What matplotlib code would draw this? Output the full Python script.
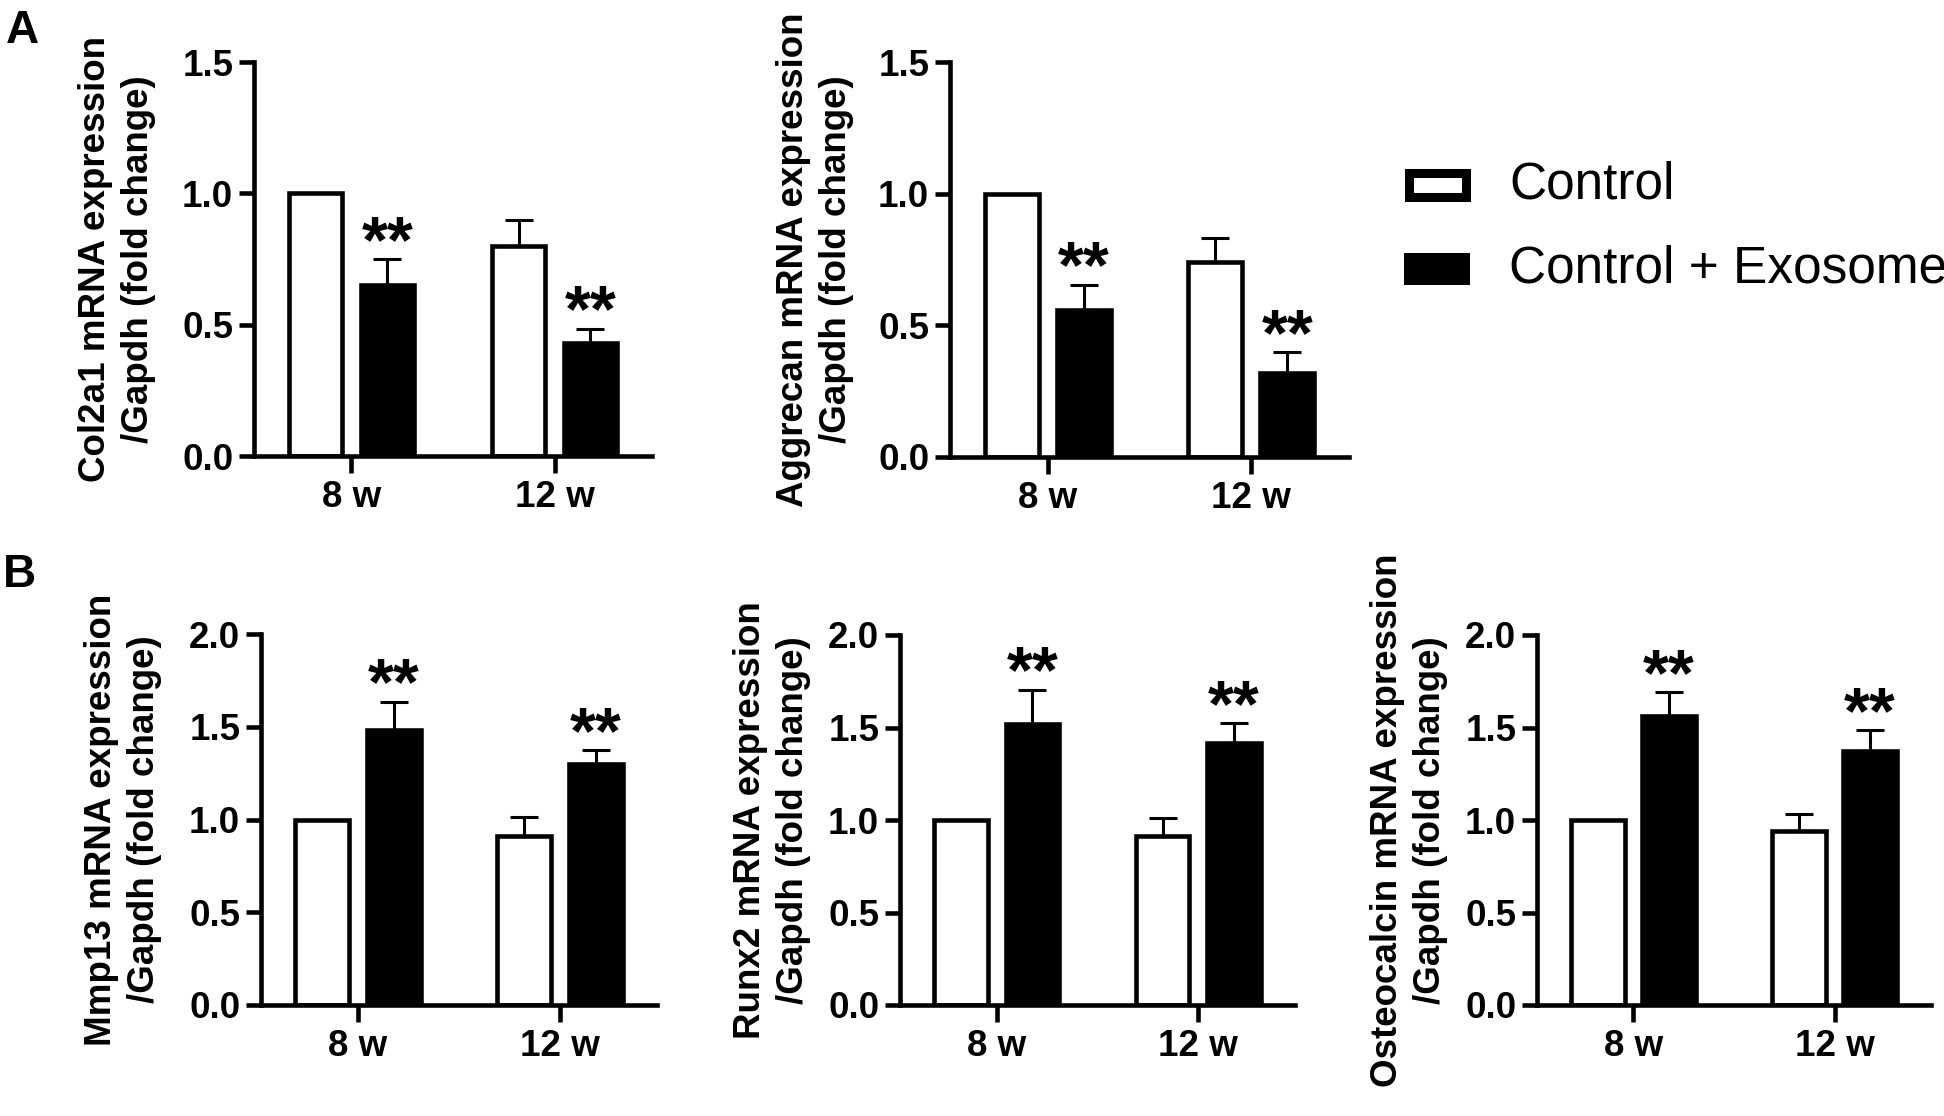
import matplotlib
matplotlib.use("Agg")
import matplotlib.pyplot as plt
from matplotlib.patches import Rectangle
import numpy as np

plt.rcParams['font.family'] = ['Liberation Sans', 'DejaVu Sans']

# ---------------- data ----------------
categories = ['8 w', '12 w']
series_names = ['Control', 'Control + Exosome']

col2a1_control = [1.00, 0.80]
col2a1_control_err = [0.0, 0.10]
col2a1_exo = [0.65, 0.43]
col2a1_exo_err = [0.10, 0.055]

aggrecan_control = [1.00, 0.74]
aggrecan_control_err = [0.0, 0.09]
aggrecan_exo = [0.56, 0.32]
aggrecan_exo_err = [0.095, 0.078]

mmp13_control = [1.00, 0.91]
mmp13_control_err = [0.0, 0.105]
mmp13_exo = [1.48, 1.30]
mmp13_exo_err = [0.155, 0.075]

runx2_control = [1.00, 0.915]
runx2_control_err = [0.0, 0.095]
runx2_exo = [1.52, 1.415]
runx2_exo_err = [0.185, 0.11]

osteo_control = [1.00, 0.94]
osteo_control_err = [0.0, 0.09]
osteo_exo = [1.56, 1.375]
osteo_exo_err = [0.13, 0.11]

exo_marks = ['**', '**']

ylabels = [
    'Col2a1 mRNA expression\n/Gapdh (fold change)',
    'Aggrecan mRNA expression\n/Gapdh (fold change)',
    'Mmp13 mRNA expression\n/Gapdh (fold change)',
    'Runx2 mRNA expression\n/Gapdh (fold change)',
    'Osteocalcin mRNA expression\n/Gapdh (fold change)',
]
yticks_A = [0.0, 0.5, 1.0, 1.5]
yticks_B = [0.0, 0.5, 1.0, 1.5, 2.0]

# ---------------- figure ----------------
W, H = 1944, 1116
fig = plt.figure(figsize=(W / 100, H / 100), dpi=100)

def rect(l, r, t, b):
    return [l / W, (H - b) / H, (r - l) / W, (b - t) / H]

panels = [
    (rect(254, 652, 62, 456), col2a1_control, col2a1_control_err, col2a1_exo, col2a1_exo_err, ylabels[0], yticks_A, -0.246),
    (rect(950, 1349, 62, 457), aggrecan_control, aggrecan_control_err, aggrecan_exo, aggrecan_exo_err, ylabels[1], yticks_A, -0.24),
    (rect(261, 657, 634, 1005), mmp13_control, mmp13_control_err, mmp13_exo, mmp13_exo_err, ylabels[2], yticks_B, -0.25),
    (rect(900, 1295, 635, 1005), runx2_control, runx2_control_err, runx2_exo, runx2_exo_err, ylabels[3], yticks_B, -0.225),
    (rect(1537, 1931, 635, 1005), osteo_control, osteo_control_err, osteo_exo, osteo_exo_err, ylabels[4], yticks_B, -0.226),
]

LW = 3.3
width = 0.265
offset = 0.177
FS = 26.5

for pos, ctrl, ctrl_err, exo, exo_err, ylab, yt, lx in panels:
    ax = fig.add_axes(pos)
    x = np.arange(len(categories))
    ax.bar(x - offset, ctrl, width, color='white', edgecolor='black', linewidth=LW, zorder=2)
    ax.bar(x + offset, exo, width, color='black', edgecolor='black', linewidth=LW, zorder=2)
    for xs, vals, errs in ((x - offset, ctrl, ctrl_err), (x + offset, exo, exo_err)):
        for xi, v, e in zip(xs, vals, errs):
            if e > 0:
                ax.errorbar(xi, v, yerr=[[0], [e]], fmt='none', ecolor='black',
                            elinewidth=2.2, capsize=10, capthick=2.2, zorder=3)
    for xi, v, e, m in zip(x + offset, exo, exo_err, exo_marks):
        ax.annotate(m, (xi, v + e), xytext=(0, -2), textcoords='offset points',
                    ha='center', va='baseline', fontsize=48, fontweight='bold')
    ax.set_xlim(-0.48, 1.48)
    ax.set_ylim(0, yt[-1])
    ax.set_yticks(yt)
    ax.set_yticklabels([f'{v:.1f}' for v in yt], fontsize=FS, fontweight='bold')
    ax.set_xticks(x)
    ax.set_xticklabels(categories, fontsize=FS, fontweight='bold')
    for s in ('top', 'right'):
        ax.spines[s].set_visible(False)
    for s in ('left', 'bottom'):
        ax.spines[s].set_linewidth(LW)
    ax.tick_params(axis='y', length=11, width=LW, pad=4)
    ax.tick_params(axis='x', length=12, width=LW, pad=5)
    ax.set_ylabel(ylab, fontsize=FS, fontweight='bold', linespacing=1.3)
    ax.yaxis.set_label_coords(lx, 0.5)
    ax.patch.set_alpha(0)

# panel letters
fig.text(6 / W, 1 - 43 / H, 'A', fontsize=33, fontweight='bold', ha='left', va='baseline')
fig.text(3 / W, 1 - 587 / H, 'B', fontsize=33, fontweight='bold', ha='left', va='baseline')

# legend (drawn manually)
fig.patches.append(Rectangle((1408.5 / W, 1 - 196.5 / H), 57 / W, 23 / H, transform=fig.transFigure,
                             facecolor='white', edgecolor='black', linewidth=6.5))
fig.patches.append(Rectangle((1404 / W, 1 - 285 / H), 66 / W, 32 / H, transform=fig.transFigure,
                             facecolor='black', edgecolor='black', linewidth=0))
fig.text(1509 / W, 1 - 185 / H, series_names[0], fontsize=37, ha='left', va='center')
fig.text(1509 / W, 1 - 269 / H, series_names[1], fontsize=37, ha='left', va='center')

fig.savefig('out.png', dpi=100)
